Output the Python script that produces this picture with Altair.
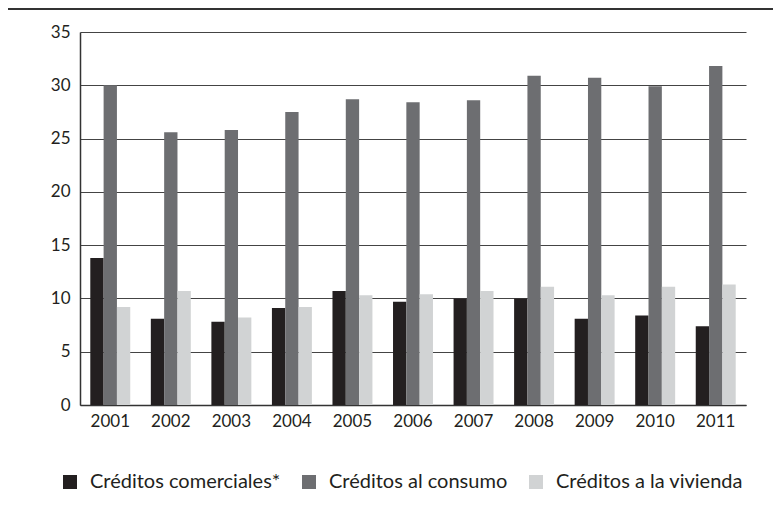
import altair as alt
import pandas as pd

years = ["2001", "2002", "2003", "2004", "2005", "2006", "2007", "2008", "2009", "2010", "2011"]
series = ["Créditos comerciales*", "Créditos al consumo", "Créditos a la vivienda"]
comerciales = [13.8, 8.1, 7.8, 9.1, 10.7, 9.7, 10.0, 10.0, 8.1, 8.4, 7.4]
consumo = [30.0, 25.6, 25.8, 27.5, 28.7, 28.4, 28.6, 30.9, 30.7, 29.9, 31.8]
vivienda = [9.2, 10.7, 8.2, 9.2, 10.3, 10.4, 10.7, 11.1, 10.3, 11.1, 11.3]
colors = ["#231f20", "#6d6e71", "#d1d3d4"]
y_ticks = [0, 5, 10, 15, 20, 25, 30, 35]

rows = []
for s, vals in zip(series, [comerciales, consumo, vivienda]):
    for yr, v in zip(years, vals):
        rows.append({"Año": yr, "Serie": s, "Valor": v})
df = pd.DataFrame(rows)

FONT = "Lato"
TXT = "#231f20"

bars = alt.Chart(df).mark_bar().encode(
    x=alt.X("Año:N", sort=years,
            scale=alt.Scale(paddingInner=0.34, paddingOuter=0.17),
            axis=alt.Axis(title=None, labelAngle=0, ticks=False, labelPadding=8,
                          labelFontSize=17, labelColor=TXT, labelFont=FONT,
                          domainColor="#333333", domainWidth=1.5, grid=False)),
    xOffset=alt.XOffset("Serie:N", sort=series),
    y=alt.Y("Valor:Q", scale=alt.Scale(domain=[0, 35], nice=False),
            axis=alt.Axis(title=None, values=y_ticks, ticks=False, labelPadding=10,
                          labelFontSize=17, labelColor=TXT, labelFont=FONT,
                          domainColor="#333333", domainWidth=1.5,
                          grid=True, gridColor="#444444", gridWidth=1.2)),
    color=alt.Color("Serie:N", sort=series,
                    scale=alt.Scale(domain=series, range=colors),
                    legend=alt.Legend(title=None, orient="none", direction="horizontal",
                                      legendX=-20, legendY=440, columns=3,
                                      symbolType="square", symbolSize=196,
                                      symbolStrokeWidth=0, symbolOpacity=1,
                                      labelFontSize=20, labelFont=FONT, labelColor=TXT,
                                      labelOffset=10, columnPadding=18, labelLimit=300)),
)

top_rule = alt.Chart(df).mark_rule(color="#333333", strokeWidth=2).encode(
    x=alt.value(-74), x2=alt.value(693), y=alt.value(-23)
)

chart = alt.layer(bars, top_rule).properties(
    width=666, height=373,
    autosize=alt.AutoSizeParams(type="none"),
    padding={"left": 72, "top": 24, "right": 27, "bottom": 99},
    background="white",
).configure_view(stroke=None)

chart.save("out.html", embed_options={"renderer": "svg", "actions": False})
